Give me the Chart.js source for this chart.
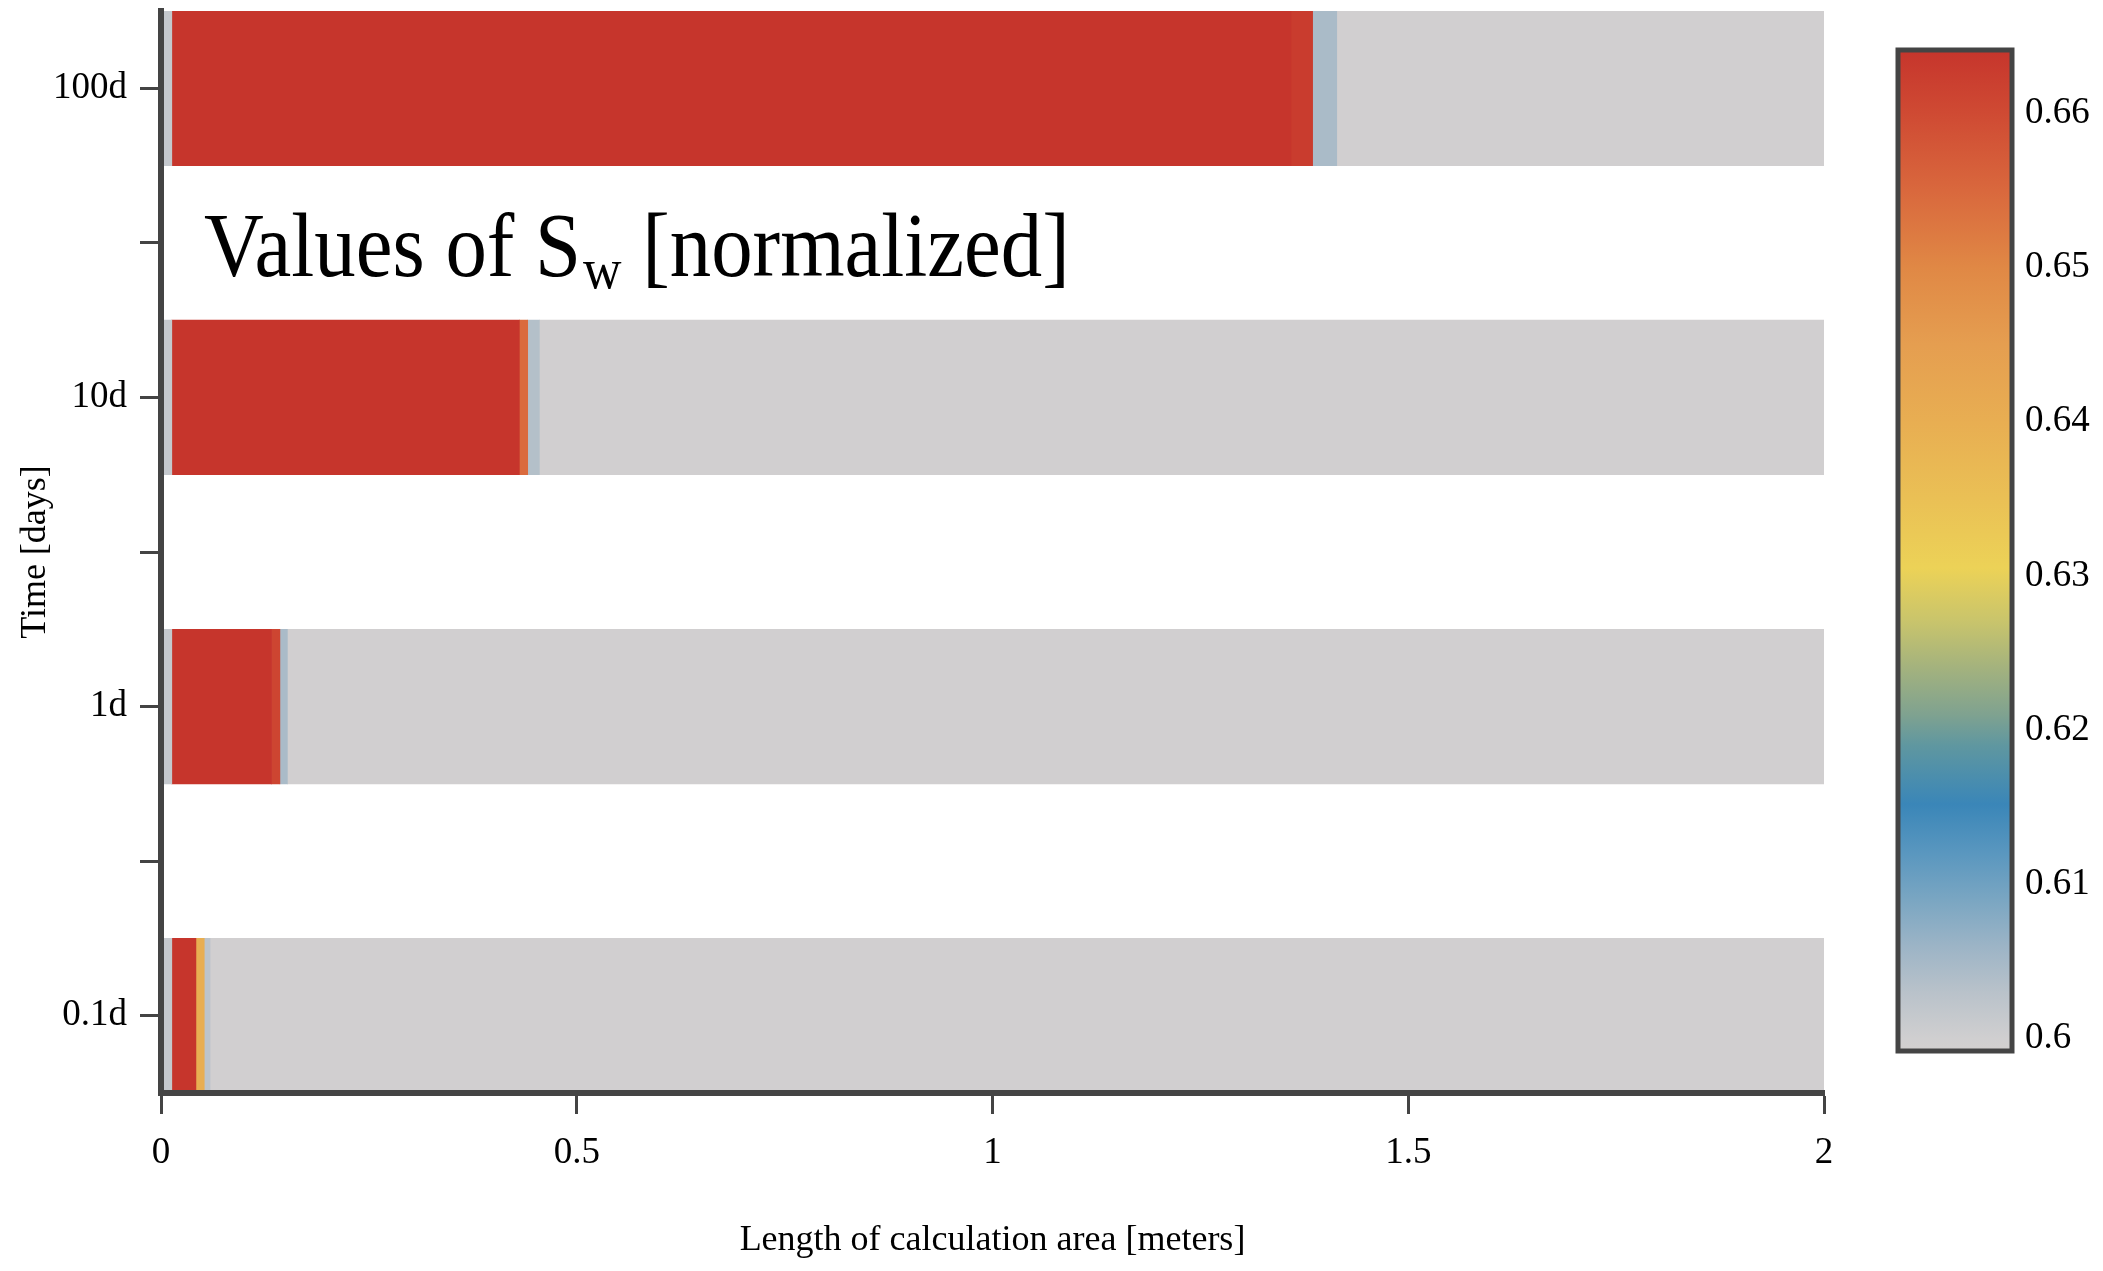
<!DOCTYPE html>
<html>
<head>
<meta charset="utf-8">
<script src="https://cdn.jsdelivr.net/npm/chart.js@4.4.0/dist/chart.umd.min.js"></script>
<style>
  html, body { margin: 0; padding: 0; background: #fff; }
  #wrap { width: 2103px; height: 1271px; }
</style>
</head>
<body>
<div id="wrap"><canvas id="sw-chart"></canvas></div>
<script>
// categories on the time axis (blank ones are the half-step ticks)
const timeLabels = ['100d', '', '10d', '', '1d', '', '0.1d'];

// segment boundaries along the column (meters) and Sw inside each segment
const edges100d = [0, 0.013, 1.359, 1.385, 1.414, 2];
const sw100d    = [0.6015, 0.6641, 0.6628, 0.6045, 0.5996];
const edges10d  = [0, 0.013, 0.431, 0.441, 0.455, 2];
const sw10d     = [0.6015, 0.6641, 0.6545, 0.6035, 0.5996];
const edges1d   = [0, 0.013, 0.133, 0.143, 0.152, 2];
const sw1d      = [0.6015, 0.6641, 0.6610, 0.6045, 0.5996];
const edges01d  = [0, 0.013, 0.042, 0.052, 0.059, 2];
const sw01d     = [0.6015, 0.6641, 0.6400, 0.6025, 0.5996];

// colour scale
const cbTicks = [0.6, 0.61, 0.62, 0.63, 0.64, 0.65, 0.66];
const cbMin = 0.5992, cbMax = 0.6641;
const cmapValues = [0.5992, 0.6, 0.603, 0.606, 0.609, 0.612, 0.6152, 0.619, 0.621, 0.624, 0.627, 0.6305, 0.635, 0.640, 0.645, 0.650, 0.655, 0.660, 0.6641];
const cmapColors = ['#d3d0cf', '#d0cfd0', '#b9c2ca', '#9cb4c6', '#7aa6c2', '#5a97bf', '#3a86b8', '#5f97a0', '#7fa290', '#a3b27e', '#c8c46c', '#ecd257', '#eac055', '#e8ae52', '#e59e50', '#e08845', '#d9683d', '#cf4a33', '#c6352c'];

function hexRgb(h) {
  return [parseInt(h.slice(1, 3), 16), parseInt(h.slice(3, 5), 16), parseInt(h.slice(5, 7), 16)];
}
function colorAt(v) {
  if (v <= cmapValues[0]) return cmapColors[0];
  for (let i = 1; i < cmapValues.length; i++) {
    if (v <= cmapValues[i]) {
      const t = (v - cmapValues[i - 1]) / (cmapValues[i] - cmapValues[i - 1]);
      const a = hexRgb(cmapColors[i - 1]), b = hexRgb(cmapColors[i]);
      const c = a.map((x, j) => Math.round(x + (b[j] - x) * t));
      return 'rgb(' + c.join(',') + ')';
    }
  }
  return cmapColors[cmapColors.length - 1];
}

const rowEdges = [edges100d, null, edges10d, null, edges1d, null, edges01d];
const rowSw = [sw100d, null, sw10d, null, sw1d, null, sw01d];

const datasets = [];
for (let k = 0; k < 5; k++) {
  datasets.push({
    data: rowEdges.map(e => e ? [e[k], e[k + 1]] : null),
    backgroundColor: rowSw.map(s => s ? colorAt(s[k]) : 'rgba(0,0,0,0)'),
    borderWidth: 0,
    barPercentage: 1,
    categoryPercentage: 1
  });
}

const extras = {
  id: 'extras',
  afterDraw(chart) {
    const ctx = chart.ctx;
    ctx.save();
    // title inside plot, squeezed a little to the width of the original
    ctx.fillStyle = '#000';
    ctx.textBaseline = 'alphabetic';
    ctx.textAlign = 'left';
    const base = 276;
    ctx.translate(204, 0);
    ctx.scale(0.92, 1);
    let x = 0;
    ctx.font = '90px "Liberation Serif"';
    ctx.fillText('Values of S', x, base);
    x += ctx.measureText('Values of S').width + 2;
    ctx.font = '58px "Liberation Serif"';
    ctx.fillText('w', x, base + 12);
    x += ctx.measureText('w').width;
    ctx.font = '90px "Liberation Serif"';
    ctx.fillText(' [normalized]', x, base);
    ctx.restore();

    // colour bar
    ctx.save();
    const bx = 1898, by = 50, bw = 114, bh = 1001;
    const g = ctx.createLinearGradient(0, by, 0, by + bh);
    cmapValues.forEach((v, i) => g.addColorStop((cbMax - v) / (cbMax - cbMin), cmapColors[i]));
    ctx.fillStyle = g;
    ctx.fillRect(bx, by, bw, bh);
    ctx.lineWidth = 5;
    ctx.strokeStyle = '#444';
    ctx.strokeRect(bx, by, bw, bh);
    ctx.fillStyle = '#000';
    ctx.font = '37px "Liberation Serif"';
    ctx.textBaseline = 'middle';
    cbTicks.forEach(v => {
      const y = by + (cbMax - v) / (cbMax - cbMin) * bh;
      ctx.fillText(String(v), 2025, y);
    });
    ctx.restore();
  }
};

Chart.defaults.font.family = '"Liberation Serif", serif';
Chart.defaults.color = '#000';

new Chart(document.getElementById('sw-chart'), {
  type: 'bar',
  data: { labels: timeLabels, datasets: datasets },
  options: {
    indexAxis: 'y',
    responsive: true,
    maintainAspectRatio: false,
    animation: false,
    layout: { padding: { left: 0, right: 279, top: 11, bottom: 0 } },
    plugins: { legend: { display: false }, tooltip: { enabled: false } },
    scales: {
      x: {
        type: 'linear',
        min: 0,
        max: 2,
        afterFit: s => { s.height = 178; s.paddingLeft = 0; s.paddingRight = 0; },
        ticks: { stepSize: 0.5, padding: 17, font: { size: 37 }, color: '#000', callback: v => String(v) },
        grid: { drawOnChartArea: false, drawTicks: true, tickLength: 21, tickWidth: 3, tickColor: '#444' },
        border: { display: true, width: 6, color: '#444', z: 1 },
        title: { display: true, text: 'Length of calculation area [meters]', font: { size: 36 }, color: '#000', padding: { top: 0, bottom: 9 } }
      },
      y: {
        stacked: true,
        offset: true,
        afterFit: s => { s.width = 161; s.paddingTop = 0; s.paddingBottom = 0; },
        ticks: { padding: 13, font: { size: 37 }, color: '#000', autoSkip: false },
        grid: { offset: false, drawOnChartArea: false, drawTicks: true, tickLength: 21, tickWidth: 3, tickColor: '#444' },
        border: { display: true, width: 6, color: '#444', z: 1 },
        title: { display: true, text: 'Time [days]', font: { size: 36 }, color: '#000', padding: { top: 14, bottom: 0 } }
      }
    }
  },
  plugins: [extras]
});
</script>
</body>
</html>
